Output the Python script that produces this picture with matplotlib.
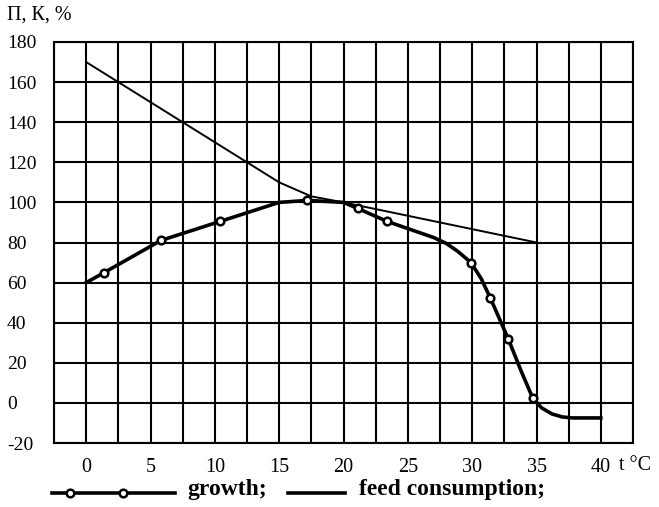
#!/usr/bin/env python3

import matplotlib
matplotlib.use("Agg")
import matplotlib.pyplot as plt
from matplotlib.lines import Line2D
import numpy as np

# feed consumption (thin line)
feed_t = [0, 15, 17.5, 20, 35]
feed_v = [170, 110, 103, 100, 80]

# growth (thick line, circles on the measured points)
growth_t = [0, 1.4, 5.8, 10.4, 15, 17.2, 20, 21.1, 23.4, 27.0, 28.0, 28.9,
            29.9, 30.7, 31.4, 32.8, 33.8, 34.7, 35.4, 36.2, 37.0, 37.8, 40]
growth_v = [60, 65, 81, 90.5, 100, 101, 100, 97, 90.5, 82.5, 79.5, 75.5,
            70, 62, 52.5, 32, 16, 2.5, -2.5, -5.5, -7, -7.5, -7.5]
growth_marked = [1, 2, 3, 5, 7, 8, 12, 14, 15, 17]

x_ticks = [0, 5, 10, 15, 20, 25, 30, 35, 40]
y_ticks = [-20, 0, 20, 40, 60, 80, 100, 120, 140, 160, 180]

plt.rcParams['font.family'] = ['Liberation Serif', 'DejaVu Serif']
plt.rcParams['axes.unicode_minus'] = False

W, H = 659, 507
fig = plt.figure(figsize=(W / 100, H / 100), dpi=100)
ax = fig.add_axes([54 / W, 1 - 443 / H, (633 - 54) / W, (443 - 42) / H])

ax.plot(feed_t, feed_v, color='black', lw=1.4, zorder=3)
ax.plot(growth_t, growth_v, color='black', lw=2.6, zorder=4,
        marker='o', markevery=growth_marked, markersize=5.5,
        markerfacecolor='white', markeredgecolor='black', markeredgewidth=1.8)

ax.set_xlim(-2.5, 42.5)
ax.set_ylim(-20, 180)
ax.set_xticks(x_ticks)
ax.set_xticks(np.arange(-2.5, 42.6, 2.5), minor=True)
ax.set_yticks(y_ticks)
ax.grid(True, which='both', axis='x', color='black', lw=1.5)
ax.grid(True, which='major', axis='y', color='black', lw=1.5)
ax.tick_params(which='both', length=0)
ax.tick_params(axis='x', pad=11, labelsize=14.5)
ax.tick_params(axis='y', pad=34, labelsize=14)
for lab in ax.get_yticklabels():
    lab.set_horizontalalignment('left')
for sp in ax.spines.values():
    sp.set_linewidth(1.5)
ax.set_axisbelow(True)

fig.text(7 / W, 1 - 15 / H, "П, К, %", fontsize=14.5, va='center', ha='left')
fig.text(619 / W, 1 - 465 / H, "t °C", fontsize=14.5, va='center', ha='left')

# legend drawn by hand
ly = 1 - 493 / H
fig.add_artist(Line2D([52 / W, 175 / W], [ly, ly], color='black', lw=2.6))
fig.add_artist(Line2D([70 / W, 123 / W], [ly, ly], lw=0, marker='o',
                      markersize=5.5, markerfacecolor='white',
                      markeredgecolor='black', markeredgewidth=1.8))
fig.text(187 / W, 1 - 490 / H, "growth;", fontsize=17, fontweight='bold',
         va='center', ha='left')
fig.add_artist(Line2D([288 / W, 345 / W], [ly, ly], color='black', lw=2.6))
fig.text(359 / W, 1 - 490 / H, "feed consumption;", fontsize=17,
         fontweight='bold', va='center', ha='left')

fig.savefig("out.png", dpi=100)
